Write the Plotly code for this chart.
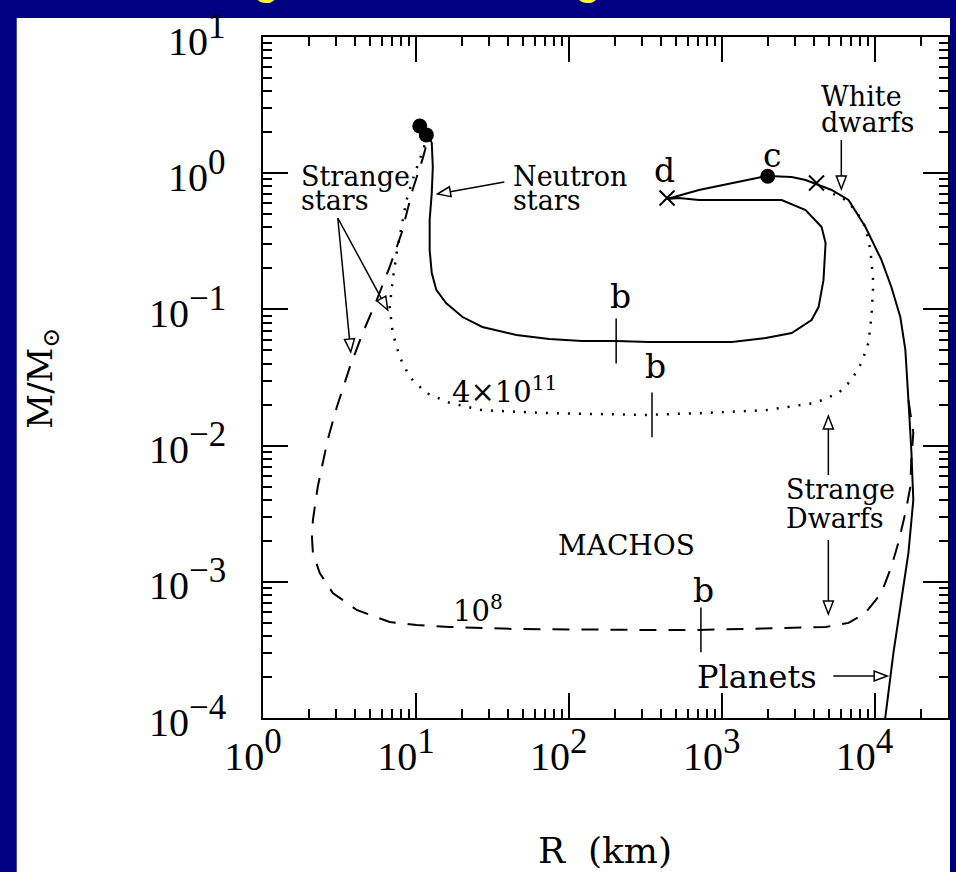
import math
import plotly.graph_objects as go

# ---------------- data ----------------
# axis ticks
x_tickvals = [1, 10, 100, 1000, 10000]
x_ticktext = ["10<sup><span style='font-size:35px'>0</span></sup>",
              "10<sup><span style='font-size:35px'>1</span></sup>",
              "10<sup><span style='font-size:35px'>2</span></sup>",
              "10<sup><span style='font-size:35px'>3</span></sup>",
              "10<sup><span style='font-size:35px'>4</span></sup>"]
y_tickvals = [1e-4, 1e-3, 1e-2, 1e-1, 1, 10]
y_ticktext = ["10<sup><span style='font-size:35px'>\u22124</span></sup>",
              "10<sup><span style='font-size:35px'>\u22123</span></sup>",
              "10<sup><span style='font-size:35px'>\u22122</span></sup>",
              "10<sup><span style='font-size:35px'>\u22121</span></sup>",
              "10<sup><span style='font-size:35px'>0</span></sup>",
              "10<sup><span style='font-size:35px'>1</span></sup>"]
x_minor = [m * 10 ** k for k in range(0, 5) for m in range(2, 10)]
y_minor = [m * 10.0 ** k for k in range(-4, 1) for m in range(2, 10)]

# solid curve: neutron stars -> loop -> white dwarfs -> planets  (R in km, M in solar masses)
solid_R = [12.3, 12.7, 12.9, 12.7, 12.3, 12.3, 12.7, 13.6, 15.8, 20.2, 27.2, 45.4, 74.5, 122,
           204, 334, 709, 1164, 1940, 2867, 3870, 4300, 4630, 4780, 4500, 3538, 2466, 1164,
           709, 525, 439, 709, 1164, 1828, 2028, 2867, 3538, 4110, 5230, 6750, 8710, 11080,
           12870, 14730, 15890, 16640, 17380, 17910, 17380, 16640, 15410, 14290, 13270, 11600]
solid_M = [1.81, 1.67, 1.11, 0.716, 0.453, 0.273, 0.185, 0.139, 0.111, 0.0879, 0.0743, 0.0649,
           0.0607, 0.0586, 0.0586, 0.0577, 0.0577, 0.0577, 0.0617, 0.0671, 0.0836, 0.104, 0.164,
           0.307, 0.403, 0.537, 0.636, 0.636, 0.636, 0.658, 0.647, 0.753, 0.847, 0.938, 0.953,
           0.938, 0.891, 0.833, 0.753, 0.636, 0.403, 0.231, 0.146, 0.0879, 0.0504, 0.0216,
           0.00929, 0.00399, 0.00284, 0.00163, 0.000916, 0.000525, 0.000300, 0.00009]

# dotted curve: 4x10^11
dotted_R = [11.4, 9.51, 8.69, 8.07, 7.48, 7.05, 6.74, 7.05, 7.83, 9.10, 11.7, 16.6, 27.2, 74.5,
            320, 709, 1940, 4110, 5800, 7060, 8200, 9110, 9530, 9820, 9390, 8710, 7500, 6450, 5230]
dotted_M = [1.60, 0.891, 0.636, 0.403, 0.259, 0.164, 0.104, 0.0671, 0.0448, 0.0319, 0.0243,
            0.0206, 0.0182, 0.0173, 0.0168, 0.0173, 0.0182, 0.0206, 0.0243, 0.0303, 0.0404,
            0.0567, 0.0879, 0.156, 0.273, 0.403, 0.537, 0.636, 0.716]

# dashed curve: 10^8
dashed_R = [11.6, 11.1, 9.51, 8.07, 6.74, 5.54, 4.49, 3.70, 3.04, 2.61, 2.54, 2.28, 2.12, 2.09,
            2.12, 2.35, 2.86, 4.10, 6.74, 10.1, 16.6, 45.4, 334, 709, 4780, 6750, 8710, 11080,
            12870, 14290, 15890, 17130, 17380, 17910, 16640]
dashed_M = [1.55, 1.29, 0.753, 0.364, 0.205, 0.117, 0.0671, 0.0378, 0.0192, 0.0104, 0.00883,
            0.00497, 0.00284, 0.00213, 0.00163, 0.00116, 0.000828, 0.000621, 0.000507, 0.000482,
            0.000466, 0.000450, 0.000443, 0.000443, 0.000466, 0.000499, 0.000590, 0.000828,
            0.00129, 0.00193, 0.00320, 0.00497, 0.00784, 0.0124, 0.0216]

# special points
ns_max_R = [10.6, 11.7]
ns_max_M = [2.22, 1.91]
c_R = [2000]
c_M = [0.95]
cross_R = [439, 4170]
cross_M = [0.658, 0.847]
b_R = [204, 350, 731]
b_M = [0.0586, 0.0168, 0.000443]

# ---------------- layout geometry ----------------
W, H = 956, 872
PL, PR, PT, PB = 263, 950, 37, 718
X_RANGE = [0, 4.48]
Y_RANGE = [-4, 1]


def pp(px, py):
    return (px - PL) / (PR - PL), (PB - py) / (PB - PT)


fig = go.Figure()

fig.add_trace(go.Scatter(x=solid_R, y=solid_M, mode="lines",
                         line=dict(color="black", width=2)))
fig.add_trace(go.Scatter(x=dotted_R, y=dotted_M, mode="lines",
                         line=dict(color="black", width=2.5, dash="2px,9px")))
fig.add_trace(go.Scatter(x=dashed_R, y=dashed_M, mode="lines",
                         line=dict(color="black", width=2, dash="17px,12px")))
fig.add_trace(go.Scatter(x=ns_max_R, y=ns_max_M, mode="markers",
                         marker=dict(color="black", size=15, symbol="circle")))
fig.add_trace(go.Scatter(x=c_R, y=c_M, mode="markers",
                         marker=dict(color="black", size=15, symbol="circle")))
fig.add_trace(go.Scatter(x=cross_R, y=cross_M, mode="markers",
                         marker=dict(symbol="x-thin-open", size=15, color="black",
                                     line=dict(color="black", width=2))))
fig.add_trace(go.Scatter(x=b_R, y=b_M, mode="markers",
                         marker=dict(symbol="line-ns-open", size=32, color="black",
                                     line=dict(color="black", width=1.5))))

shapes = []
# white panel on blue slide
x0, y0 = pp(16, 872)
x1, y1 = pp(952, 18)
shapes.append(dict(type="rect", xref="paper", yref="paper", x0=x0, y0=y0, x1=x1, y1=y1,
                   fillcolor="white", line=dict(width=0), layer="below"))


def arrow(tail, tip, L=13, hw=5):
    (tx, ty), (hx, hy) = tail, tip
    dx, dy = hx - tx, hy - ty
    n = (dx * dx + dy * dy) ** 0.5
    ux, uy = dx / n, dy / n
    bx, by = hx - L * ux, hy - L * uy
    nx, ny = -uy, ux
    a = pp(tx, ty)
    b = pp(bx, by)
    shapes.append(dict(type="line", xref="paper", yref="paper", x0=a[0], y0=a[1],
                       x1=b[0], y1=b[1], line=dict(color="black", width=1.5)))
    p1 = pp(hx, hy)
    p2 = pp(bx + hw * nx, by + hw * ny)
    p3 = pp(bx - hw * nx, by - hw * ny)
    path = "M {} {} L {} {} L {} {} Z".format(p1[0], p1[1], p2[0], p2[1], p3[0], p3[1])
    shapes.append(dict(type="path", xref="paper", yref="paper", path=path,
                       fillcolor="white", line=dict(color="black", width=1.5)))


arrow((505, 182), (438, 194))   # neutron stars
arrow((338, 218), (351, 352))   # strange stars 1
arrow((338, 218), (388, 310))   # strange stars 2
arrow((843, 140), (843, 189))   # white dwarfs
arrow((830, 475), (830, 416))   # strange dwarfs up
arrow((830, 540), (830, 614))   # strange dwarfs down
arrow((835, 676), (889, 676))   # planets

annotations = []


def label(text, px, base, size, xanchor="left", family="DejaVu Serif", color="black"):
    x, y = pp(px, base - 0.343 * size)
    annotations.append(dict(text=text, x=x, y=y, xref="paper", yref="paper",
                            xanchor=xanchor, yanchor="middle", showarrow=False,
                            font=dict(family=family, size=size, color=color)))


label("Strange", 299, 186, 27)
label("stars", 299, 210, 27)
label("Neutron", 512, 186, 27)
label("stars", 512, 210, 27)
label("White", 821, 106, 27)
label("dwarfs", 821, 132, 27)
label("Strange", 786, 499, 27)
label("Dwarfs", 786, 528, 27)
label("Planets", 696, 688, 32)
label("MACHOS", 557, 555, 28)
label("4\u00d710<sup>11</sup>", 451, 400, 29)
label("10<sup>8</sup>", 452, 619, 29)
label("b", 622, 308, 33, "center")
label("b", 657, 378, 33, "center")
label("b", 705, 602, 33, "center")
label("c", 773, 167, 33, "center")
label("d", 666, 182, 33, "center")
label("R\u00a0\u00a0(km)", 606, 863, 36, "center")

# y tick labels, right-aligned next to the axis
ylab_x = pp(228, 0)[0]
for v, t in zip(y_tickvals, y_ticktext):
    annotations.append(dict(text=t, x=ylab_x, y=math.log10(v), xref="paper", yref="y",
                            xanchor="right", yanchor="middle", yshift=2, showarrow=False,
                            font=dict(family="Liberation Serif", size=40, color="black")))

# y axis title (rotated)
yx, yy = pp(41, 378)
annotations.append(dict(text="M/M<sub>\u2299</sub>", x=yx, y=yy, xref="paper", yref="paper",
                        xanchor="center", yanchor="middle", textangle=-90, showarrow=False,
                        font=dict(family="DejaVu Serif", size=34, color="black")))

# slide title (mostly cut off by the top edge)
tx, ty = pp(139, 5)
annotations.append(dict(text="Strange Matter Configurations", x=tx, y=ty, xref="paper",
                        yref="paper", xanchor="left", yanchor="bottom", showarrow=False,
                        font=dict(family="Liberation Sans", size=47, color="#FFFF00")))

axis_common = dict(type="log", showgrid=False, zeroline=False, showline=True,
                   linecolor="black", linewidth=2, mirror="ticks", ticks="inside",
                   ticklen=25, tickwidth=1.5, tickcolor="black", tickmode="array",
                   tickfont=dict(family="Liberation Serif", size=40, color="black"))

fig.update_layout(
    width=W, height=H,
    margin=dict(l=PL, r=W - PR, t=PT, b=H - PB),
    paper_bgcolor="#000080", plot_bgcolor="white",
    showlegend=False,
    shapes=shapes, annotations=annotations,
    xaxis=dict(range=X_RANGE, tickvals=x_tickvals, ticktext=x_ticktext,
               ticklabelstandoff=2, ticklabelshift=-10,
               minor=dict(tickmode="array", tickvals=x_minor, ticks="inside", ticklen=9,
                          tickwidth=1.5, tickcolor="black", showgrid=False),
               **axis_common),
    yaxis=dict(range=Y_RANGE, tickvals=y_tickvals, ticktext=y_ticktext,
               showticklabels=False,
               minor=dict(tickmode="array", tickvals=y_minor, ticks="inside", ticklen=9,
                          tickwidth=1.5, tickcolor="black", showgrid=False),
               **axis_common),
)

fig.write_html("out.html",
               config={"displayModeBar": False},
               post_script="document.body.style.margin='0px';"
                           "document.body.style.overflow='hidden';")
